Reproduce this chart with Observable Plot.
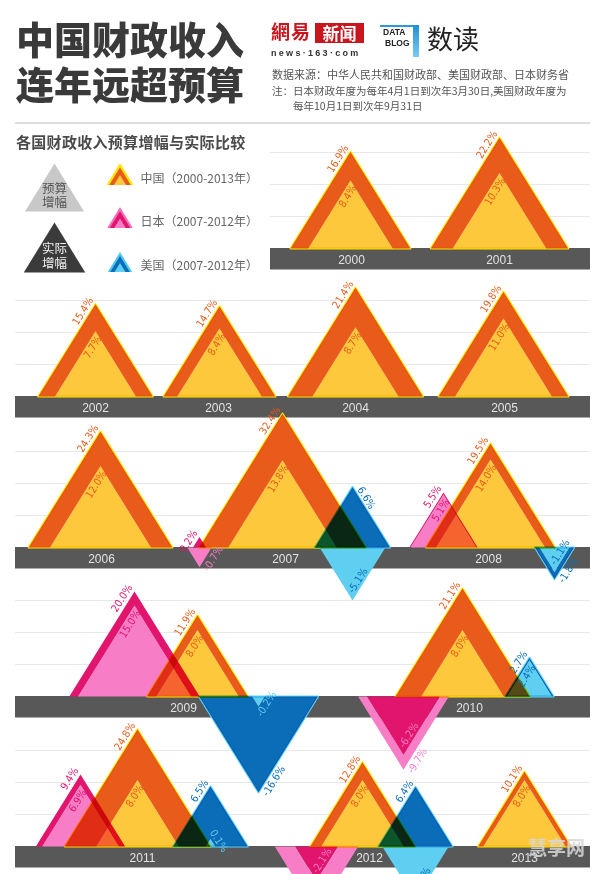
<!DOCTYPE html>
<html><head><meta charset="utf-8">
<script src="https://cdn.jsdelivr.net/npm/d3@7"></script>
<script src="https://cdn.jsdelivr.net/npm/@observablehq/plot@0.6"></script>
<style>
body{margin:0;background:#fff;}
#page{position:relative;width:600px;height:874px;overflow:hidden;font-family:"Noto Sans CJK SC","Noto Sans",sans-serif;}
.abs{position:absolute;white-space:nowrap;}
#chart{position:absolute;left:0;top:126px;}
</style></head>
<body><div id="page">
<div id="chart"></div>
<div class="abs" style="left:16px;top:19px;font-size:38px;line-height:38px;font-weight:900;color:#3a3a3a;">中国财政收入</div>
<div class="abs" style="left:16px;top:64px;font-size:38px;line-height:38px;font-weight:900;color:#3a3a3a;">连年远超预算</div>
<div class="abs" style="left:271px;top:19px;font-size:19px;line-height:24px;font-weight:700;color:#C9151E;letter-spacing:1px;">網易</div>
<div class="abs" style="left:315px;top:23px;width:49px;height:20px;background:#C9151E;color:#fff;font-size:17px;line-height:20px;font-weight:700;text-align:center;">新闻</div>
<div class="abs" style="left:271px;top:48px;font-family:'Liberation Sans',Arial,sans-serif;font-size:9px;line-height:10px;font-weight:700;color:#333;letter-spacing:2.3px;">news·163·com</div>
<div class="abs" style="left:380px;top:25px;width:39px;height:2px;background:#2A9AD8;"></div>
<div class="abs" style="left:413px;top:25px;width:6px;height:32px;background:linear-gradient(#1E8ED6,#7CCBF2);"></div>
<div class="abs" style="left:383px;top:28px;font-family:'Liberation Sans',Arial,sans-serif;font-size:8.5px;line-height:9px;font-weight:700;color:#222;">DATA</div>
<div class="abs" style="left:385px;top:39px;font-family:'Liberation Sans',Arial,sans-serif;font-size:8.5px;line-height:9px;font-weight:700;color:#222;">BLOG</div>
<div class="abs" style="left:427px;top:22px;font-size:26px;line-height:32px;color:#222;">数读</div>
<div class="abs" style="left:272px;top:66px;font-size:11px;line-height:16px;color:#555;">数据来源：中华人民共和国财政部、美国财政部、日本财务省</div>
<div class="abs" style="left:272px;top:83px;font-size:10.5px;line-height:16px;color:#555;">注：日本财政年度为每年4月1日到次年3月30日,美国财政年度为</div>
<div class="abs" style="left:293px;top:98px;font-size:10.5px;line-height:16px;color:#555;">每年10月1日到次年9月31日</div>
<div class="abs" style="left:15px;top:122px;width:575px;height:2px;background:#DDD;"></div>
<div class="abs" style="left:16px;top:133px;font-size:15px;line-height:18px;font-weight:700;color:#4a4a4a;letter-spacing:0.3px;">各国财政收入预算增幅与实际比较</div>
<div class="abs" style="left:528px;top:836px;font-size:19px;line-height:22px;font-weight:700;color:rgba(215,215,215,0.85);">慧享网</div>
</div>
<script>
// ---------------- data ----------------
const years = [2000,2001,2002,2003,2004,2005,2006,2007,2008,2009,2010,2011,2012,2013];
const chinaActual = [16.9,22.2,15.4,14.7,21.4,19.8,24.3,32.4,19.5,11.9,21.1,24.8,12.8,10.1];
const chinaBudget = [8.4,10.3,7.7,8.4,8.7,11.0,12.0,13.8,14.0,8.0,8.0,8.0,8.0,8.0];
const otherYears = [2007,2008,2009,2010,2011,2012];
const japanActual = [0.2,5.5,20.0,-6.2,9.4,-2.1];
const japanBudget = [-0.7,5.1,15.0,-9.7,6.9,-8.2];
const usActual = [6.6,-1.8,-16.6,2.7,6.5,6.4];
const usBudget = [-5.1,-1.1,-0.2,2.4,0.1,-5.2];
const legendNames = ["中国（2000-2013年）","日本（2007-2012年）","美国（2007-2012年）"];
const legendKinds = ["预算\n增幅","实际\n增幅"];

// ---------------- layout ----------------
const H = 748;
const K = 23.5;      // px of triangle height per sqrt(percent)
const HALF = 0.62;   // half base width / height
const rowOfYear = [0,0,1,1,1,1,2,2,2,3,3,4,4,4];
const rowBase = [122,270,421,570,720];
const rowLeft = [270,15,15,15,15], rowRight = 590;
const gridSteps = [32,64,96];
const barH = 21.5;
const chinaX = [350,499,95,219,355,503,100,282,490,197,462,137,362,524];
const japanX = [199,443,134,403,80,316];
const usX = [352,554,258,529,210,415];
const yearLabelX = [351,499,95,218,355,504,101,285,488,183,469,142,369,524];
const labelOverride = {"us-2007-a":"C"};

const COL = {
  cn:{dark:"#E85B1A", light:"#FDC83C", edge:"#FFE600", icon:"#FFE600"},
  jp:{dark:"#E1146E", light:"#F77EC6", edge:null, icon:"#F470BC"},
  us:{dark:"#0B6DB7", light:"#5ECEF1", edge:"#5ED3F6", icon:"#4CC9F0"}
};
const LABEL_FONT = '"Liberation Sans Narrow","DejaVu Sans Condensed","Arial Narrow",sans-serif';

// ---------------- geometry ----------------
const fills = [], edges = [], labels = [];
let pid = 0;
function addPoly(arr, pts, color){ const id = pid++; for (const [x,y] of pts) arr.push({id,x,y,color}); }
function triPts(cx, base, v){
  const h = K*Math.sqrt(Math.abs(v)), s = v >= 0 ? -1 : 1;
  return [[cx-HALF*h, base],[cx, base+s*h],[cx+HALF*h, base]];
}
const STY = {
  A:{rot:-58, anchor:"end",   du:2.5, dn:-7},
  B:{rot:-58, anchor:"end",   du:-3,  dn:6},
  C:{rot:58,  anchor:"start", du:4.5, dn:-6},
  D:{rot:58,  anchor:"start", du:-6,  dn:-6},
  E:{rot:-58, anchor:"start", du:1,   dn:7},
  F:{rot:-58, anchor:"start", du:6,   dn:-6},
  G:{rot:-58, anchor:"start", du:-7,  dn:5}
};
const fmt = v => v.toFixed(1) + "%";
function addLabel(apex, st, v, color){
  const s = STY[st], t = s.rot*Math.PI/180;
  const u = [Math.cos(t), Math.sin(t)], d = [-Math.sin(t), Math.cos(t)];
  labels.push({x: apex[0] + s.du*u[0] + s.dn*d[0], y: apex[1] + s.du*u[1] + s.dn*d[1],
    text: fmt(v), rotate: s.rot, anchor: s.anchor, color});
}
function addEntry(key, cx, base, a, b, col){
  const A = {v:a, fill:col.dark, kind:"a"}, B = {v:b, fill:col.light, kind:"b"};
  if (Math.sign(a) === Math.sign(b)) {
    const [o, i] = Math.abs(a) >= Math.abs(b) ? [A,B] : [B,A];
    const oT = triPts(cx, base, o.v), iT = triPts(cx, base, i.v);
    addPoly(fills, [oT[0],oT[1],oT[2],iT[2],iT[1],iT[0]], o.fill);
    addPoly(fills, iT, i.fill);
    if (o.kind === "a" && col.edge) addPoly(edges, oT, col.edge);
    const up = o.v > 0;
    addLabel(oT[1], up ? "A" : "E", o.v, o.fill);
    const tiny = Math.abs(i.v) < 1;
    const bg = tiny ? o.fill : i.fill;
    addLabel(iT[1], up ? (tiny ? "D" : "B") : (tiny ? "G" : "F"), i.v, bg === col.dark ? col.light : col.dark);
  } else {
    for (const T of [A,B]) {
      const pts = triPts(cx, base, T.v);
      addPoly(fills, pts, T.fill);
      if (T.kind === "a" && col.edge) addPoly(edges, pts, col.edge);
      const st = labelOverride[key + "-" + T.kind] || (T.v > 0 ? "A" : (Math.abs(T.v) >= 2 ? "F" : "E"));
      const c = st === "F" ? (T.fill === col.dark ? col.light : col.dark) : T.fill;
      addLabel(pts[1], st, T.v, c);
    }
  }
}
years.forEach((yr, i) => addEntry("cn-"+yr, chinaX[i], rowBase[rowOfYear[i]], chinaActual[i], chinaBudget[i], COL.cn));
otherYears.forEach((yr, i) => {
  const r = rowOfYear[years.indexOf(yr)];
  addEntry("jp-"+yr, japanX[i], rowBase[r], japanActual[i], japanBudget[i], COL.jp);
  addEntry("us-"+yr, usX[i], rowBase[r], usActual[i], usBudget[i], COL.us);
});

// rows: bars and grid
const bars = rowBase.map((b, r) => ({x1: rowLeft[r], x2: rowRight, y1: b, y2: b + barH}));
const grid = rowBase.flatMap((b, r) => gridSteps.map(g => ({y: b - g, x1: rowLeft[r], x2: rowRight})));
const yearLabels = years.map((yr, i) => ({x: yearLabelX[i], y: rowBase[rowOfYear[i]] + barH/2 + 0.5, text: String(yr)}));

// legend (layout constants)
const legendPolys = [];
const kindTri = [{cx:54, base:85, h:48, fill:"#C8C8C8", text:"#555"}, {cx:54, base:146, h:50, fill:"#3B3B3B", text:"#F2F2F2"}];
kindTri.forEach(k => addPoly(legendPolys, [[k.cx-0.615*k.h,k.base],[k.cx,k.base-k.h],[k.cx+0.615*k.h,k.base]], k.fill));
const kindText = kindTri.map((k, i) => ({x:k.cx, y:k.base - k.h*0.34, text: legendKinds[i], color:k.text}));
const icons = [{c:COL.cn, base:59, h:22}, {c:COL.jp, base:102, h:21}, {c:COL.us, base:146, h:20}];
icons.forEach(ic => {
  [[1, ic.c.icon],[0.8, ic.c.dark],[0.45, ic.c.light]].forEach(([s, f]) => {
    const h = ic.h*s;
    addPoly(legendPolys, [[119.5-0.61*h, ic.base-0.5],[119.5, ic.base-0.5-h],[119.5+0.61*h, ic.base-0.5]], f);
  });
});
const iconText = icons.map((ic, i) => ({x:140, y: ic.base - ic.h*0.3, text: legendNames[i]}));

const chart = Plot.plot({
  width: 600, height: H, margin: 0,
  x: {domain:[0,600], range:[0,600], axis:null},
  y: {domain:[0,H], range:[0,H], axis:null},
  color: {type:"identity"},
  style: {background:"transparent", overflow:"visible", fontFamily:'"Noto Sans CJK SC",sans-serif'},
  marks: [
    Plot.ruleY(grid, {y:"y", x1:"x1", x2:"x2", stroke:"#E8E8E8", strokeWidth:1}),
    Plot.rect(bars, {x1:"x1", x2:"x2", y1:"y1", y2:"y2", fill:"#585858"}),
    Plot.line(fills, {x:"x", y:"y", z:"id", fill:"color", stroke:null, curve:"linear-closed", strokeMiterlimit:7}),
    Plot.line(edges, {x:"x", y:"y", z:"id", stroke:"color", fill:null, strokeWidth:2.2, curve:"linear-closed", strokeMiterlimit:8}),
    Plot.text(yearLabels, {x:"x", y:"y", text:"text", fill:"#E2E2E2", fontSize:12, fontFamily:'"Liberation Sans",Arial,sans-serif'}),
    Plot.text(labels.filter(d => d.anchor === "end"), {x:"x", y:"y", text:"text", rotate:"rotate", fill:"color", textAnchor:"end", fontSize:10.5, fontFamily:LABEL_FONT}),
    Plot.text(labels.filter(d => d.anchor === "start"), {x:"x", y:"y", text:"text", rotate:"rotate", fill:"color", textAnchor:"start", fontSize:10.5, fontFamily:LABEL_FONT}),
    Plot.line(legendPolys, {x:"x", y:"y", z:"id", fill:"color", stroke:null, curve:"linear-closed"}),
    Plot.text(kindText, {x:"x", y:"y", text:"text", fill:"color", fontSize:12.5, lineHeight:1.18}),
    Plot.text(iconText, {x:"x", y:"y", text:"text", fill:"#666", fontSize:12, textAnchor:"start"})
  ]
});
document.getElementById("chart").appendChild(chart);
// put the triangle layers in one isolated group so they multiply only with each other
const fg = chart.querySelector('g[stroke-miterlimit="7"]');
const eg = chart.querySelector('g[stroke-miterlimit="8"]');
if (fg) {
  const wrap = document.createElementNS("http://www.w3.org/2000/svg", "g");
  wrap.style.isolation = "isolate";
  fg.parentNode.insertBefore(wrap, fg);
  wrap.appendChild(fg);
  if (eg) wrap.appendChild(eg);
  wrap.querySelectorAll("path").forEach(p => p.style.mixBlendMode = "multiply");
}
</script>
</body></html>
